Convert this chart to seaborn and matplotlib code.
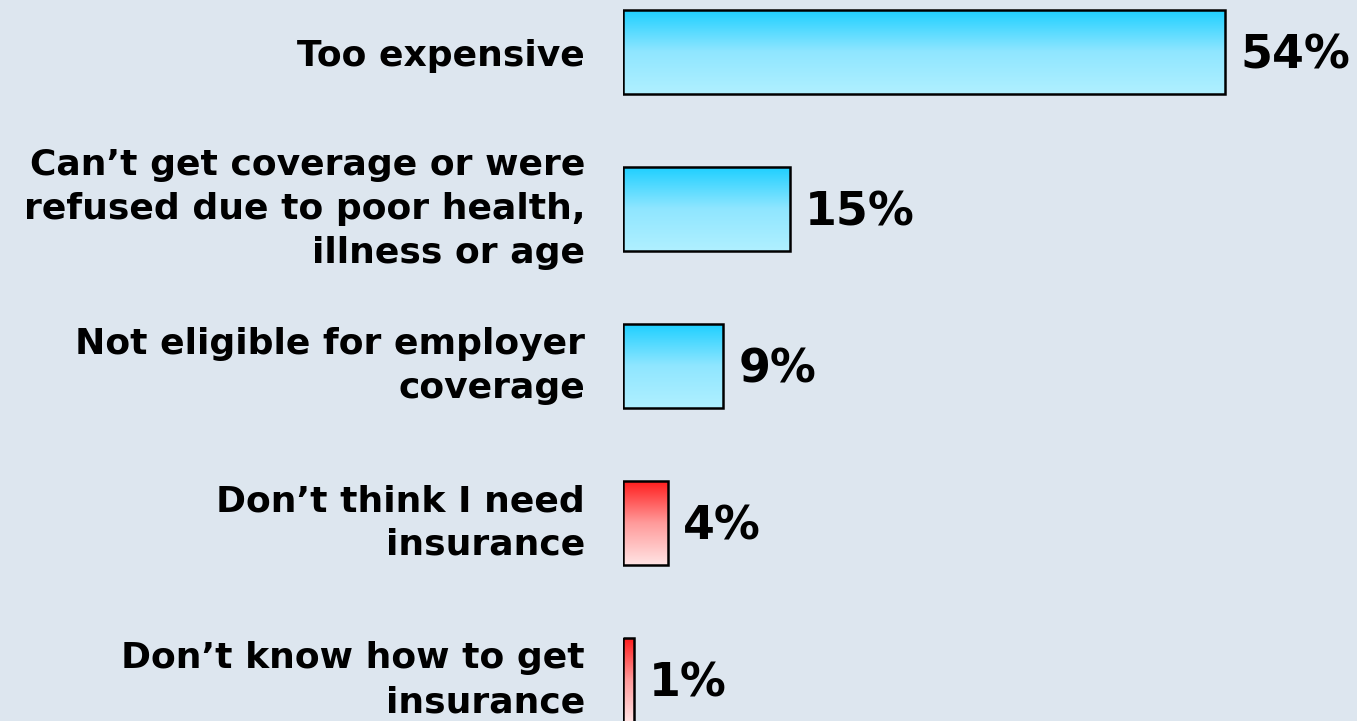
import numpy as np
import pandas as pd
import matplotlib
matplotlib.use("Agg")
import matplotlib.pyplot as plt
import seaborn as sns
from matplotlib.colors import LinearSegmentedColormap
from matplotlib.transforms import ScaledTranslation

# Reasons for being uninsured, share of respondents (%)
reasons = [
    "Too expensive",
    "Can\u2019t get coverage or were\nrefused due to poor health,\nillness or age",
    "Not eligible for employer\ncoverage",
    "Don\u2019t think I need\ninsurance",
    "Don\u2019t know how to get\ninsurance",
]
shares = [54, 15, 9, 4, 1]
groups = ["cost", "cost", "cost", "need", "need"]

bg = "#dde6ef"
sns.set_theme(style="white")
plt.rcParams["font.family"] = ["DejaVu Sans"]

df = pd.DataFrame({"reason": reasons, "share": shares, "group": groups})

fig, ax = plt.subplots(figsize=(13.57, 7.21), dpi=100)
fig.patch.set_facecolor(bg)
ax.set_facecolor(bg)
ax.set_position([623 / 1357, 0, 1 - 623 / 1357, 1])

sns.barplot(data=df, x="share", y="reason", orient="h", width=0.535,
            color="white", edgecolor="black", linewidth=1.8, ax=ax)

# vertical fills: saturated at the top of each bar, pale at the bottom
gradients = {
    "cost": LinearSegmentedColormap.from_list("cost", ["#1ccfff", "#8fe6ff", "#b0f0ff"]),
    "need": LinearSegmentedColormap.from_list("need", ["#ff1a1a", "#ff9a9a", "#ffe4e4"]),
}
ramp = np.linspace(0, 1, 256).reshape(-1, 1)
value_shift = ScaledTranslation(0, -0.04, fig.dpi_scale_trans)

for patch, grp, val in zip(ax.patches, df["group"], df["share"]):
    x0, y0 = patch.get_x(), patch.get_y()
    w, h = patch.get_width(), patch.get_height()
    patch.set_facecolor("none")
    patch.set_zorder(3)
    top, bottom = min(y0, y0 + h), max(y0, y0 + h)
    # y axis is inverted, so row 0 of the ramp goes to the smaller y value (screen top)
    img = ax.imshow(ramp, cmap=gradients[grp], aspect="auto",
                    extent=(x0, x0 + w, bottom, top), origin="upper", zorder=2)
    img.set_clip_path(patch)
    ax.text(x0 + w + 1.35, y0 + h / 2, f"{val}%", ha="left", va="center",
            fontsize=33, fontweight="bold", color="black", zorder=4,
            transform=ax.transData + value_shift)

ax.set_xlim(0, (1357 - 623) / 11.15)
ax.set_ylim(4.26, -0.33)
ax.set_xlabel("")
ax.set_ylabel("")
ax.set_xticks([])
ax.set_yticks(range(len(reasons)))
ax.set_yticklabels([])
ax.tick_params(axis="y", length=0)

# category labels, right-aligned just left of the bars
for i, text in enumerate(reasons):
    lift = 0.0 if "\n" in text else -0.04
    ax.text(0, i, text, ha="right", va="center", multialignment="right",
            fontsize=26, fontweight="bold", color="black", linespacing=1.36,
            transform=ax.transData + ScaledTranslation(-0.38, lift, fig.dpi_scale_trans),
            clip_on=False)

for s in ax.spines.values():
    s.set_visible(False)

fig.savefig("out.png", dpi=100, facecolor=bg)
